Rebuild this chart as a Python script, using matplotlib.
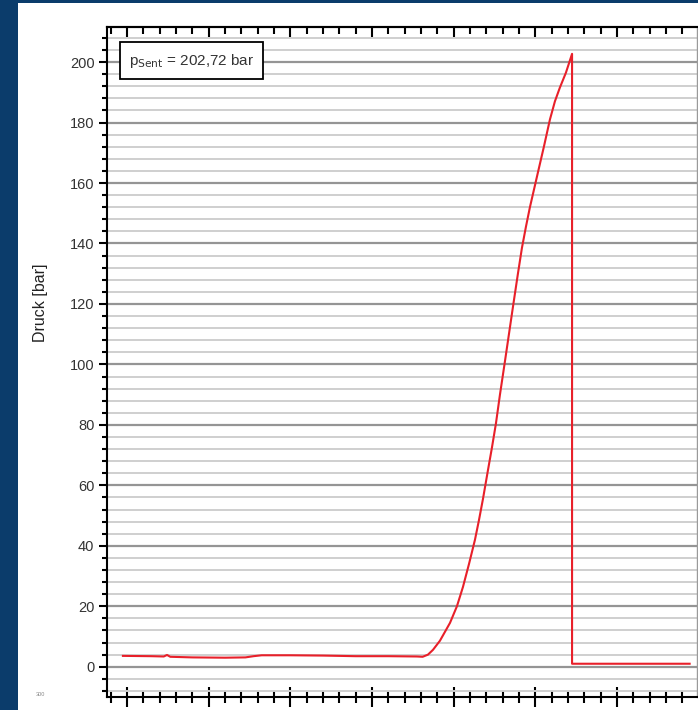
import matplotlib
matplotlib.use("Agg")
import matplotlib.pyplot as plt
from matplotlib.ticker import MultipleLocator, NullFormatter
from matplotlib.patches import Rectangle

plt.rcParams['font.family'] = ['Liberation Sans', 'DejaVu Sans']

# ---- data ----
time_s = [-0.05, 0.30, 0.45, 0.49, 0.53, 0.80, 1.20, 1.45, 1.55, 1.65, 2.00, 2.40, 2.80,
          3.20, 3.55, 3.62, 3.685, 3.747, 3.832, 3.955, 4.04, 4.114, 4.188, 4.261,
          4.31, 4.359, 4.42, 4.469, 4.518, 4.567, 4.628, 4.677, 4.726, 4.787,
          4.836, 4.885, 4.934, 5.032, 5.105, 5.179, 5.24, 5.30, 5.375, 5.45,
          5.45, 6.00, 6.89]
pressure_bar = [3.6, 3.5, 3.4, 3.9, 3.3, 3.1, 3.0, 3.1, 3.5, 3.8, 3.8, 3.7, 3.5,
                3.5, 3.4, 3.3, 4.0, 5.6, 8.6, 14.5, 20.0, 26.4, 34.0, 42.0,
                48.5, 55.5, 65.0, 72.5, 80.5, 90.0, 101.0, 110.0, 119.0, 130.0,
                138.5, 145.5, 152.0, 163.5, 172.0, 181.0, 187.0, 191.5, 196.5, 202.72,
                1.0, 1.0, 1.0]
y_ticks = [0, 20, 40, 60, 80, 100, 120, 140, 160, 180, 200]
y_label = "Druck [bar]"
annotation = r"p$_{\mathrm{Sent}}$ = 202,72 bar"

W, H = 698, 710
fig = plt.figure(figsize=(W / 100, H / 100), dpi=100)
fig.patch.set_facecolor('#0b3c6b')
fig.add_artist(Rectangle((18 / W, 0), 1, 1 - 3 / H, transform=fig.transFigure,
                         facecolor='white', edgecolor='none', zorder=0))

left, right, top, bottom = 107, 697, 27, 697
ax = fig.add_axes([left / W, 1 - bottom / H, (right - left) / W, (bottom - top) / H])
ax.set_facecolor('white')

ax.plot(time_s, pressure_bar, color='#e8202a', lw=1.5, zorder=3,
        solid_joinstyle='round')

ax.set_xlim(-0.245, 6.98)
ax.set_ylim(-10, 211.6)

# horizontal grid lines
ax.yaxis.set_major_locator(MultipleLocator(20))
ax.yaxis.set_minor_locator(MultipleLocator(4))
ax.set_yticks(y_ticks)
ax.grid(axis='y', which='minor', color='#cfcfcf', lw=1.4, zorder=1)
ax.grid(axis='y', which='major', color='#959595', lw=1.6, zorder=1)
ax.grid(axis='x', which='both', visible=False)

ax.tick_params(axis='y', which='major', direction='out', length=6, width=1.5,
               labelsize=10.5, labelcolor='#333333', pad=3)
ax.tick_params(axis='y', which='minor', direction='out', length=3.5, width=1.5)

ax.xaxis.set_major_locator(MultipleLocator(1))
ax.xaxis.set_minor_locator(MultipleLocator(0.2))
ax.tick_params(axis='x', which='major', direction='inout', length=15, width=1.5,
               labelbottom=False)
ax.tick_params(axis='x', which='minor', direction='inout', length=9, width=1.5)

top_ax = ax.secondary_xaxis('top')
top_ax.xaxis.set_major_locator(MultipleLocator(1))
top_ax.xaxis.set_minor_locator(MultipleLocator(0.2))
top_ax.xaxis.set_major_formatter(NullFormatter())
top_ax.tick_params(axis='x', which='major', direction='in', length=7, width=1.5)
top_ax.tick_params(axis='x', which='minor', direction='in', length=5, width=1.5)
top_ax.spines['top'].set_linewidth(1.5)

for s in ['left', 'bottom', 'top']:
    ax.spines[s].set_linewidth(1.5)
ax.spines['right'].set_color('#9a9a9a')
ax.spines['right'].set_linewidth(1.0)

fig.text(40 / W, 1 - 303 / H, y_label, rotation=90, ha='center', va='center',
         fontsize=11.5, color='#222222')

ax.text(0.143, 0.950, annotation, transform=ax.transAxes, ha='center', va='center',
        fontsize=11, color='#333333', zorder=5,
        bbox=dict(boxstyle='square,pad=0.6', facecolor='white', edgecolor='black', lw=1.3))

fig.text(40 / W, 1 - 695 / H, "300", ha='center', va='center', fontsize=4, color='#888888')

fig.savefig('out.png', dpi=100, facecolor=fig.get_facecolor())
